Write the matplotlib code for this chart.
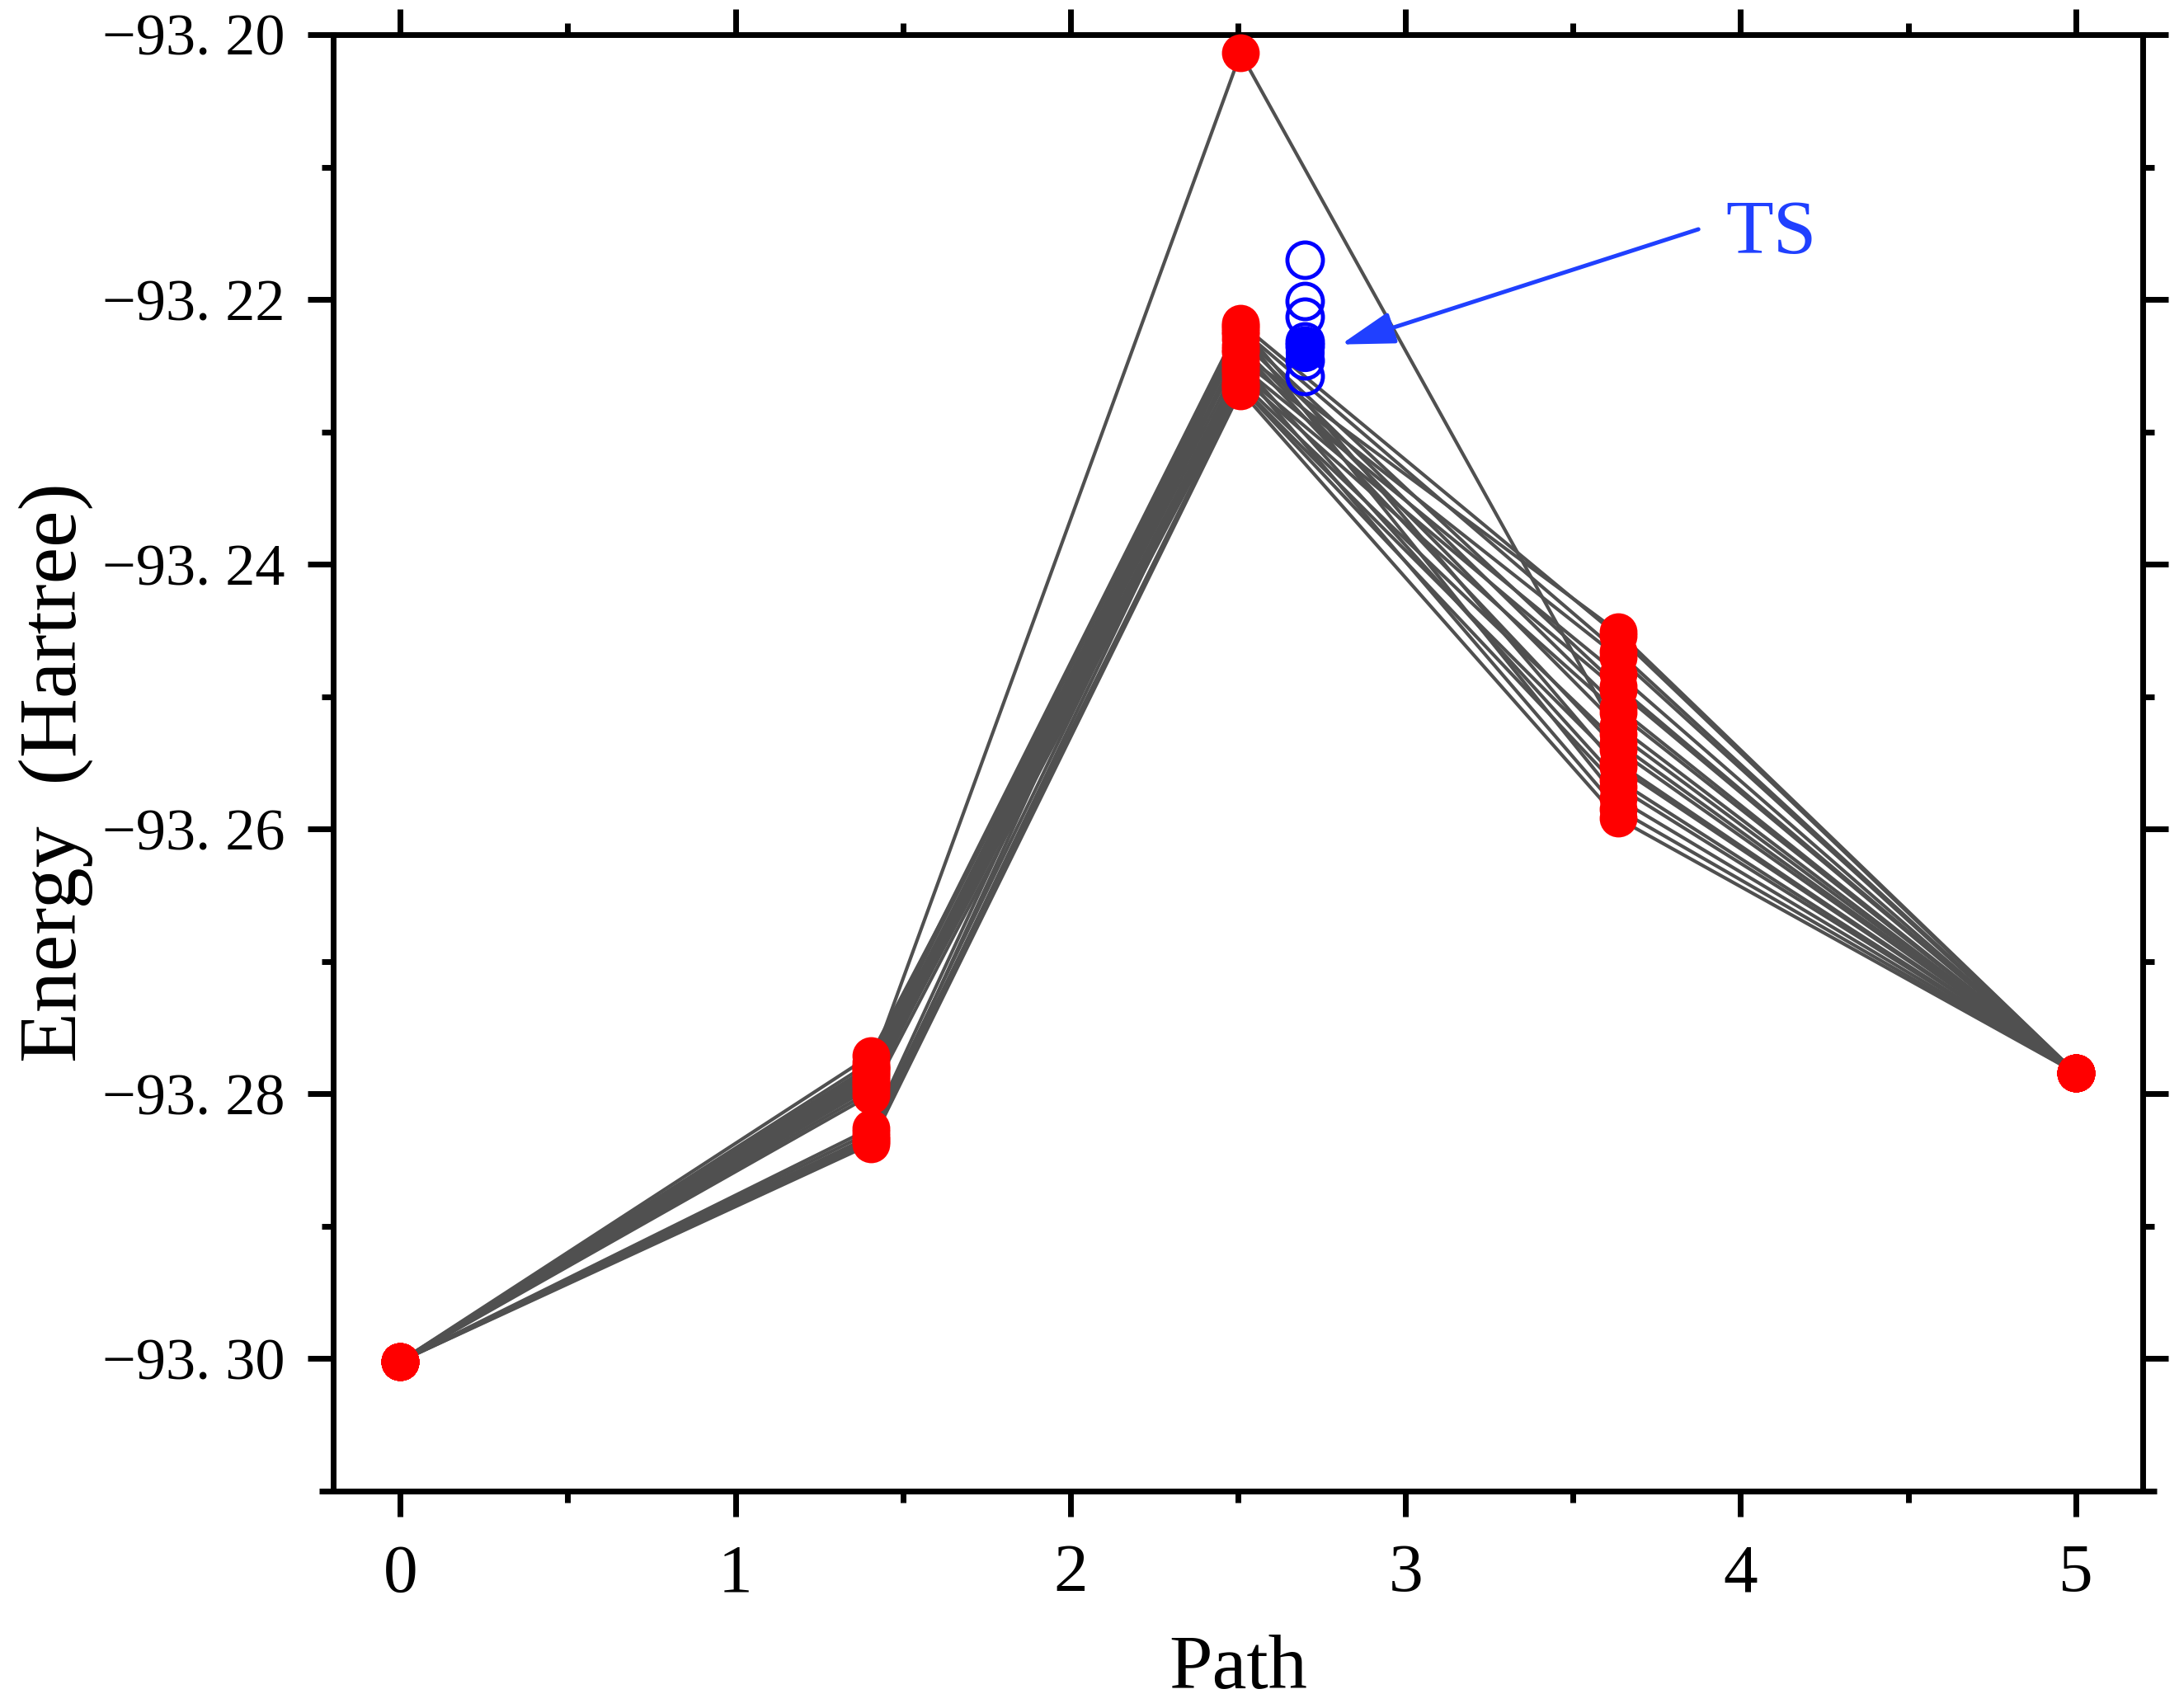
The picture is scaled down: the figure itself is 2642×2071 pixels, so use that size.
import matplotlib
matplotlib.use("Agg")
import matplotlib.pyplot as plt
from matplotlib.ticker import MultipleLocator, FuncFormatter
from matplotlib.lines import Line2D

# ---------------- data ----------------
path_x = [0.0, 1.404, 2.508, 3.634, 5.0]          # reaction-path coordinate of each image
reactant_E = -93.3002
product_E = -93.2784
# energies of the three intermediate images for each path (Hartree)
image1_E = [-93.2780, -93.2771, -93.2776, -93.2779, -93.2781, -93.2783, -93.2785,
            -93.2787, -93.2789, -93.2791, -93.2793, -93.2795, -93.2798, -93.2801,
            -93.2826, -93.2829, -93.2832, -93.2834, -93.2836, -93.2838]
image2_E = [-93.2014, -93.2240, -93.2218, -93.2222, -93.2245, -93.2250, -93.2226,
            -93.2255, -93.2230, -93.2258, -93.2235, -93.2262, -93.2238, -93.2265,
            -93.2220, -93.2248, -93.2266, -93.2224, -93.2253, -93.2269]
image3_E = [-93.2528, -93.2451, -93.2454, -93.2466, -93.2470, -93.2483, -93.2492,
            -93.2495, -93.2508, -93.2512, -93.2522, -93.2535, -93.2540, -93.2550,
            -93.2553, -93.2563, -93.2568, -93.2577, -93.2585, -93.2592]
ts_x = 2.70
ts_open_E = [-93.2170, -93.2201, -93.2213, -93.2232, -93.2235, -93.2246, -93.2258]
ts_filled_E = [-93.2237, -93.2240]
ts_label = "TS"
ts_label_pos = (4.09, -93.2151)
ts_arrow_tail = (3.874, -93.2147)
ts_arrow_tip = (2.807, -93.2234)

xlabel = "Path"
ylabel = "Energy  (Hartree)"
xlim = (-0.2, 5.2)
ylim = (-93.31, -93.20)

# ---------------- figure ----------------
fig = plt.figure(figsize=(26.42, 20.71), dpi=100)
ax = fig.add_axes([404 / 2642, 1 - 1808 / 2071, (2598 - 404) / 2642, (1808 - 42) / 2071])

line_color = "#505050"
for e1, e2, e3 in zip(image1_E, image2_E, image3_E):
    ys = [reactant_E, e1, e2, e3, product_E]
    ax.plot(path_x, ys, color=line_color, lw=3.0, zorder=2, solid_capstyle="butt")

for e1, e2, e3 in zip(image1_E, image2_E, image3_E):
    ys = [reactant_E, e1, e2, e3, product_E]
    ax.plot(path_x, ys, ls="none", marker="o", ms=33, mfc="#ff0000", mec="none",
            zorder=3, clip_on=False)

ax.plot([ts_x] * len(ts_open_E), ts_open_E, ls="none", marker="o", ms=31,
        mfc="none", mec="#0000ff", mew=3.5, zorder=4)
ax.plot([ts_x] * len(ts_filled_E), ts_filled_E, ls="none", marker="o", ms=33,
        mfc="#0000ff", mec="#0000ff", mew=1, zorder=4)

arrow_color = "#2040ff"
ax.annotate("", xy=ts_arrow_tip, xytext=ts_arrow_tail,
            arrowprops=dict(arrowstyle="-|>,head_length=1.0,head_width=0.3",
                            color=arrow_color, lw=3.6,
                            mutation_scale=40, shrinkA=0, shrinkB=0), zorder=5)
ax.text(ts_label_pos[0], ts_label_pos[1], ts_label, color=arrow_color,
        fontsize=68, family="Liberation Serif", ha="center", va="center")

ax.set_xlim(*xlim)
ax.set_ylim(*ylim)

ax.xaxis.set_major_locator(MultipleLocator(1))
ax.xaxis.set_minor_locator(MultipleLocator(0.5))
ax.yaxis.set_major_locator(MultipleLocator(0.02))
ax.yaxis.set_minor_locator(MultipleLocator(0.01))


def yfmt(v, pos):
    return f"{v:.2f}".replace("-", "\u2212").replace(".", ". ")


ax.yaxis.set_major_formatter(FuncFormatter(yfmt))
ax.xaxis.set_major_formatter(FuncFormatter(lambda v, p: f"{v:.0f}"))

for sp in ax.spines.values():
    sp.set_linewidth(5)
ax.tick_params(which="both", direction="out", top=True, right=True, width=5)
ax.tick_params(which="major", length=22)
ax.tick_params(which="minor", length=10)
ax.tick_params(axis="y", which="major", labelsize=52, pad=20)
ax.tick_params(axis="x", which="major", labelsize=60, pad=24)
for lab in ax.get_xticklabels() + ax.get_yticklabels():
    lab.set_family("Liberation Serif")

# bottom axis line extends slightly beyond the frame on both sides
ext = 17 / 2194
ax.add_line(Line2D([-ext, 1 + ext], [0, 0], transform=ax.transAxes, color="black",
                   lw=5, clip_on=False, solid_capstyle="butt", zorder=6))

ax.set_xlabel(xlabel, fontsize=68, family="Liberation Serif")
ax.xaxis.label.set_va("baseline")
ax.xaxis.set_label_coords(0.5, -(2047 - 1808) / 1766)
ax.set_ylabel(ylabel, fontsize=72, family="Liberation Serif")
ax.yaxis.label.set_va("baseline")
ax.yaxis.set_label_coords(-(404 - 92) / 2194, (1808 - 937) / 1766)

fig.savefig("out.png", dpi=100)
